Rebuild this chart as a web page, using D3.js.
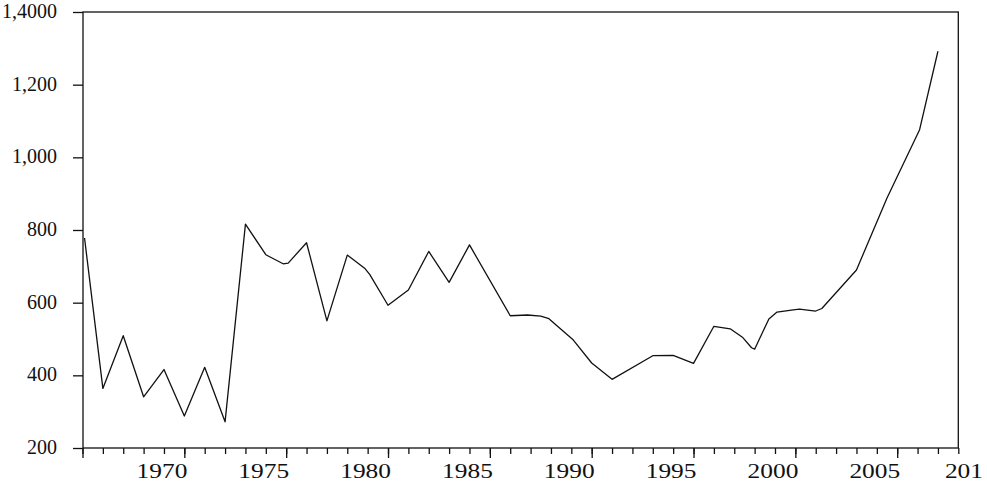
<!DOCTYPE html>
<html>
<head>
<meta charset="utf-8">
<script src="https://cdn.jsdelivr.net/npm/d3@7"></script>
<style>
    body { margin: 0; background: #fff; }
    svg { display: block; }
    .axis text { font-family: "Liberation Serif", "Times New Roman", serif; fill: #111; }
    .axis line { stroke: #111; stroke-width: 1.3; }
</style>
</head>
<body>
<svg id="chart"></svg>
<script>
// values (year, value)
var years = [1965.1, 1966, 1967, 1968, 1969, 1970, 1971, 1972, 1973, 1974, 1974.85, 1975.1,
    1976, 1977, 1978, 1978.85, 1979.1, 1980, 1981, 1982, 1983, 1984, 1986, 1986.85, 1987.5,
    1987.9, 1989.1, 1990, 1991, 1993, 1994, 1995, 1996, 1996.8, 1997.4, 1997.85, 1998,
    1998.7, 1999.1, 1999.9, 2000.2, 2001, 2001.3, 2003, 2004.5, 2006.1, 2007];
var values = [778, 364, 509, 341, 416, 288, 422, 272, 816, 732, 707, 709,
    765, 550, 731, 695, 678, 593, 635, 741, 656, 759, 564, 566, 563,
    556, 497, 434, 389, 454, 455, 433, 535, 528, 505, 476, 472,
    555, 574, 580, 582, 577, 584, 690, 888, 1076, 1292];

var yTicks = [200, 400, 600, 800, 1000, 1200, 1400];
var yTickLabels = ["200", "400", "600", "800", "1,000", "1,200", "1,4000"];
var xMajorTicks = [1970, 1975, 1980, 1985, 1990, 1995, 2000, 2005, 2010];
var xTickLabels = ["1970", "1975", "1980", "1985", "1990", "1995", "2000", "2005", "201"];

var width = 987,
    height = 485;
var plotLeft = 83, plotRight = 958.3, plotTop = 12, plotBottom = 448;

var svg = d3.select("#chart")
        .attr("width", width)
        .attr("height", height);

var x = d3.scaleLinear().domain([1965, 2008]).range([82.5, plotRight]);
var y = d3.scaleLinear().domain([200, 1400]).range([plotBottom, plotTop]);

// y axis, ticks pointing out to the left
var yAxis = svg.append("g")
        .attr("class", "axis")
        .attr("transform", "translate(" + plotLeft + ",0)")
        .call(d3.axisLeft(y)
            .tickValues(yTicks)
            .tickSize(10)
            .tickPadding(16)
            .tickFormat(function(d, i) { return yTickLabels[i]; }));
yAxis.select(".domain").remove();
yAxis.selectAll("text")
        .attr("font-size", 20)
        .attr("dy", null)
        .attr("y", 5.5);

// x axis: a tick every year, longer ones every five years
var minorYears = d3.range(1965, 2009);
var xMinor = svg.append("g")
        .attr("class", "axis")
        .attr("transform", "translate(0," + plotBottom + ")")
        .call(d3.axisBottom(x).tickValues(minorYears).tickSize(6).tickFormat(""));
xMinor.select(".domain").remove();

var xMajor = svg.append("g")
        .attr("class", "axis")
        .attr("transform", "translate(0," + plotBottom + ")")
        .call(d3.axisBottom(x).tickValues([1965].concat(xMajorTicks.filter(function(d) { return d <= 2008; })))
            .tickSize(10).tickFormat(""));
xMajor.select(".domain").remove();

// x labels sit just left of their tick, drawn wide like the original
svg.append("g")
        .attr("class", "axis")
    .selectAll("text")
        .data(xMajorTicks)
        .enter()
    .append("text")
        .attr("x", function(d) { return Math.min(x(d) + 3, 983); })
        .attr("y", 478)
        .attr("text-anchor", "end")
        .attr("font-size", 20)
        .attr("textLength", function(d, i) { return xTickLabels[i].length * 12.7; })
        .attr("lengthAdjust", "spacingAndGlyphs")
        .text(function(d, i) { return xTickLabels[i]; });

// frame
svg.append("rect")
        .attr("x", plotLeft)
        .attr("y", plotTop)
        .attr("width", plotRight - plotLeft)
        .attr("height", plotBottom - plotTop)
        .attr("fill", "none")
        .attr("stroke", "#111")
        .attr("stroke-width", 1.3);

var line = d3.line()
        .x(function(d, i) { return x(years[i]); })
        .y(function(d) { return y(d); });

svg.append("path")
        .datum(values)
        .attr("fill", "none")
        .attr("stroke", "#111")
        .attr("stroke-width", 1.3)
        .attr("stroke-linejoin", "round")
        .attr("d", line);
</script>
</body>
</html>
